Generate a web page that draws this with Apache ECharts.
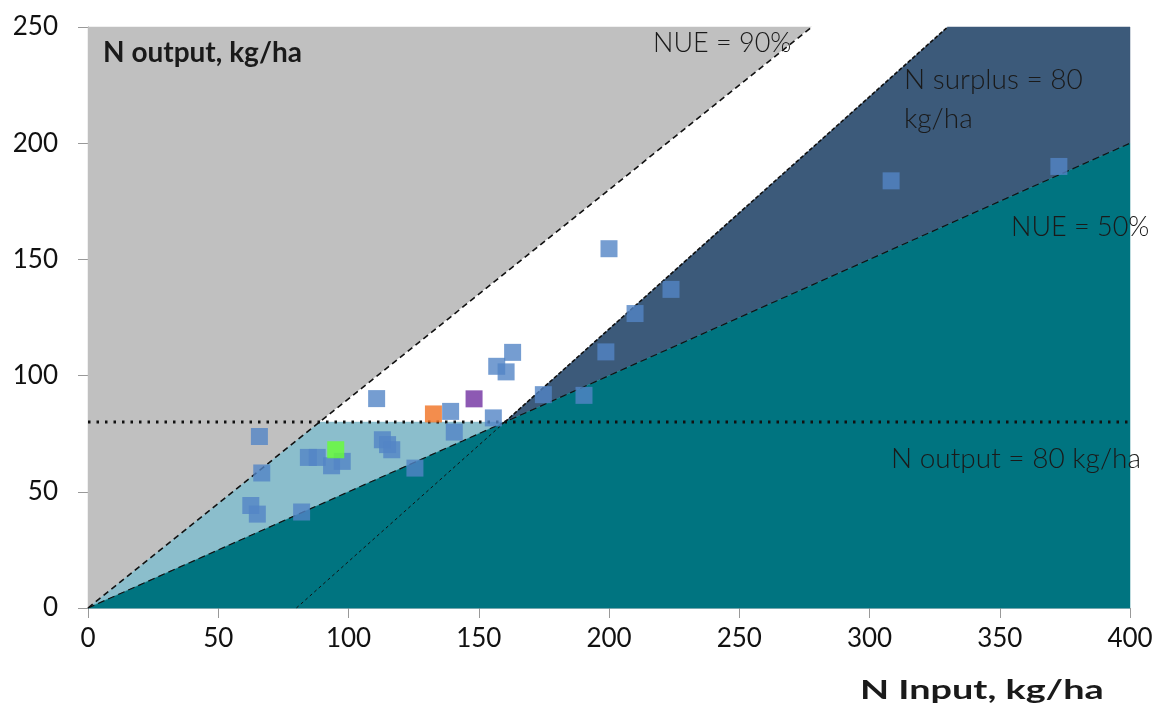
<!DOCTYPE html>
<html>
<head>
<meta charset="utf-8">
<script src="https://cdn.jsdelivr.net/npm/echarts@6/dist/echarts.min.js"></script>
<style>html,body{margin:0;padding:0;background:#fff}#c{width:1159px;height:706px}</style>
</head>
<body>
<div id="c"></div>
<script>
// Axis ticks
const xTicks = [0, 50, 100, 150, 200, 250, 300, 350, 400];
const yTicks = [0, 50, 100, 150, 200, 250];

// Shaded regions (polygon vertices in data units: [N input, N output])
const grayRegion = [[0, 0], [0, 250], [277.8, 250]];
const whiteRegion = [[88.9, 80], [277.8, 250], [330, 250], [160, 80]];
const lightBlueRegion = [[0, 0], [88.9, 80], [160, 80]];
const navyRegion = [[160, 80], [330, 250], [400, 250], [400, 200]];
const tealRegion = [[0, 0], [400, 0], [400, 200]];

// Reference lines
const nue90Line = [[0, 0], [277.8, 250]];
const surplusLineLow = [[80, 0], [160, 80]];
const surplusLineHigh = [[160, 80], [330, 250]];
const nue50Line = [[0, 0], [400, 200]];
const output80Line = [[0, 80], [400, 80]];

// Farm data points
const blueInput  = [65.8, 66.7, 62.5, 65.0, 82.0, 84.6, 88.0, 93.5, 97.6, 110.8, 113.0, 115.0, 116.6, 125.5, 139.2, 140.6, 155.6, 156.9, 160.5, 163.0, 174.8, 190.4, 198.8, 200.0, 210.0, 223.8, 308.3, 372.7];
const blueOutput = [73.8, 58.1, 44.1, 40.4, 41.3, 64.8, 64.8, 61.2, 63.1, 90.1, 72.4, 70.3, 68.1, 60.2, 84.6, 75.7, 81.8, 104.0, 101.6, 110.0, 91.8, 91.5, 110.2, 154.6, 126.7, 137.1, 183.8, 190.0];
const greenPoint  = [[95.1, 68.1]];
const orangePoint = [[132.6, 83.5]];
const purplePoint = [[148.2, 90.0]];

const FONT = 'Lato, "Open Sans", sans-serif';

function polySeries(region, color) {
  return {
    type: 'custom',
    silent: true,
    z: 1,
    data: [0],
    renderItem: function (params, api) {
      return {
        type: 'polygon',
        shape: { points: region.map(p => api.coord(p)) },
        style: { fill: color, stroke: color, lineWidth: 0.5 }
      };
    }
  };
}
function lineSeries(pts, width, dash) {
  return {
    type: 'line', data: pts, symbol: 'none', silent: true, z: 3,
    lineStyle: { color: '#111', width: width, type: dash }
  };
}
function note(text, x, y, font, extra) {
  return Object.assign({
    type: 'text', x: x, y: y, z: 10,
    style: { text: text, font: font, fill: '#1a1a1a', align: 'left', verticalAlign: 'middle' }
  }, extra || {});
}

const chart = echarts.init(document.getElementById('c'));
chart.setOption({
  animation: false,
  backgroundColor: '#ffffff',
  grid: { left: 88, right: 29, top: 27, bottom: 98 },
  xAxis: {
    type: 'value', min: xTicks[0], max: xTicks[xTicks.length - 1], interval: 50,
    axisLine: { show: true, lineStyle: { color: '#9fb8bf', width: 1 } },
    axisTick: { show: true, length: 10, lineStyle: { color: '#999' } },
    axisLabel: { fontFamily: FONT, fontSize: 26, color: '#111', margin: 18 },
    splitLine: { show: false }
  },
  yAxis: {
    type: 'value', min: yTicks[0], max: yTicks[yTicks.length - 1], interval: 50,
    axisLine: { show: true, lineStyle: { color: '#999', width: 1 } },
    axisTick: { show: true, length: 10, lineStyle: { color: '#999' } },
    axisLabel: { fontFamily: FONT, fontSize: 26, color: '#111', margin: 30 },
    splitLine: { show: false }
  },
  series: [
    polySeries(grayRegion, '#c0c0c0'),
    polySeries(whiteRegion, '#ffffff'),
    polySeries(lightBlueRegion, '#8bbecc'),
    polySeries(navyRegion, '#3c5a7a'),
    polySeries(tealRegion, '#007480'),
    lineSeries(nue90Line, 1.6, [6, 4]),
    lineSeries(surplusLineLow, 1, [3, 3]),
    lineSeries(surplusLineHigh, 1.6, [4, 2]),
    lineSeries(nue50Line, 1.2, [7, 4]),
    lineSeries(output80Line, 3, [2.5, 6]),
    {
      type: 'scatter', z: 5, symbol: 'rect', symbolSize: 17,
      itemStyle: { color: '#5284c6' },
      data: blueInput.map((x, i) => [x, blueOutput[i]])
    },
    { type: 'scatter', z: 6, symbol: 'rect', symbolSize: 17, itemStyle: { color: '#66ff33' }, data: greenPoint },
    { type: 'scatter', z: 6, symbol: 'rect', symbolSize: 17, itemStyle: { color: '#f07020' }, data: orangePoint },
    { type: 'scatter', z: 6, symbol: 'rect', symbolSize: 17, itemStyle: { color: '#7030a0' }, data: purplePoint }
  ],
  graphic: [
    note('N output, kg/ha', 103, 53, 'bold 28px ' + FONT, {}),
    note('N Input, kg/ha', 860, 690, 'bold 27px ' + FONT, { scaleX: 1.4 }),
    note('NUE = 90%', 653, 43, '300 27px ' + FONT),
    note('N surplus = 80', 904, 80, '300 28px ' + FONT),
    note('kg/ha', 904, 119, '300 28px ' + FONT),
    note('NUE = 50%', 1011, 227, '300 27px ' + FONT),
    note('N output = 80 kg/ha', 891, 459, '300 28px ' + FONT)
  ]
});
</script>
</body>
</html>
